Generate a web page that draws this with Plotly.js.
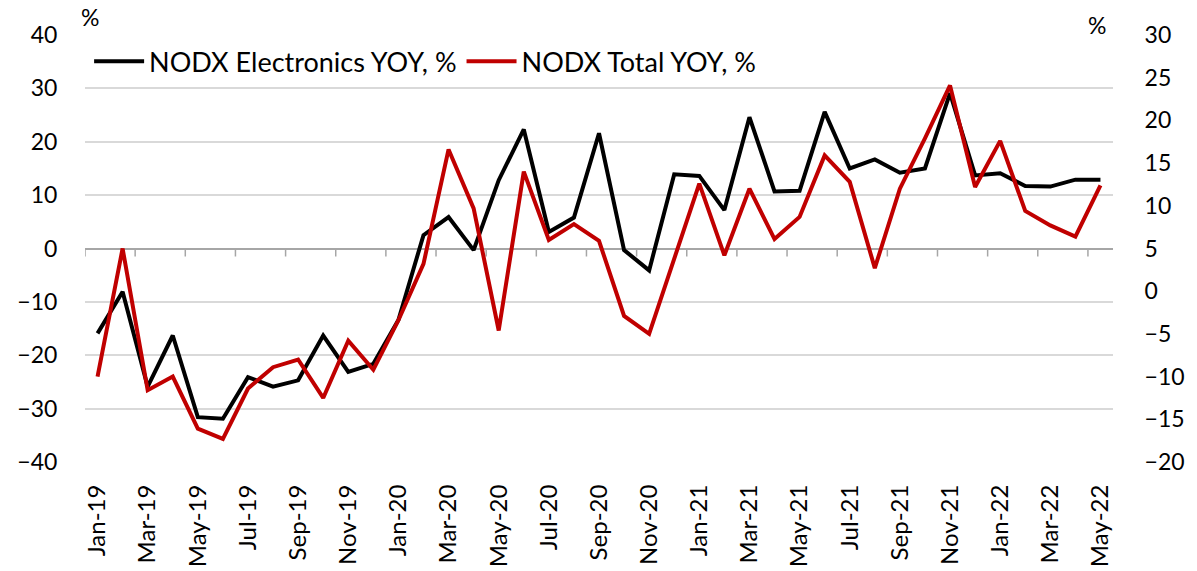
<!DOCTYPE html>
<html>
<head>
<meta charset="utf-8">
<script src="https://cdn.plot.ly/plotly-3.0.1.min.js"></script>
<style>
  body { margin: 0; background: white; }
  #chart { width: 1197px; height: 571px; }
</style>
</head>
<body>
<div id="chart"></div>
<script>
// monthly categories, Jan-19 .. May-22
const months = ['Jan-19','Feb-19','Mar-19','Apr-19','May-19','Jun-19','Jul-19','Aug-19','Sep-19','Oct-19','Nov-19','Dec-19',
                'Jan-20','Feb-20','Mar-20','Apr-20','May-20','Jun-20','Jul-20','Aug-20','Sep-20','Oct-20','Nov-20','Dec-20',
                'Jan-21','Feb-21','Mar-21','Apr-21','May-21','Jun-21','Jul-21','Aug-21','Sep-21','Oct-21','Nov-21','Dec-21',
                'Jan-22','Feb-22','Mar-22','Apr-22','May-22'];

// left axis
const electronicsYoy = [-15.9, -8.1, -25.9, -16.3, -31.6, -31.9, -24.1, -25.9, -24.7, -16.3, -23.1, -21.6,
                        -13.4, 2.5, 5.9, -0.3, 12.8, 22.3, 3.1, 5.8, 21.6, -0.3, -4.1, 13.9,
                        13.6, 7.2, 24.6, 10.7, 10.8, 25.6, 15.0, 16.7, 14.2, 15.0, 29.1, 13.7,
                        14.1, 11.7, 11.6, 12.9, 12.9];

// right axis
const totalYoy = [-10.0, 5.0, -11.6, -10.0, -16.1, -17.3, -11.4, -8.9, -8.0, -12.5, -5.8, -9.2,
                  -3.4, 3.2, 16.6, 9.7, -4.6, 14.0, 6.0, 7.85, 5.9, -2.9, -5.0, 3.8,
                  12.6, 4.2, 12.0, 6.1, 8.7, 15.9, 12.8, 2.7, 12.0, 17.9, 24.1, 12.2,
                  17.6, 9.4, 7.7, 6.4, 12.4];

const FONT = 'Lato, "Open Sans", sans-serif';
const AXIS_GREY = '#a6a6a6';

// little tick marks hanging under the zero line, between every second category
const zeroTicks = [];
for (let i = 0; i <= months.length; i += 2) {
    zeroTicks.push({
        type: 'line', xref: 'x', yref: 'y',
        ysizemode: 'pixel', yanchor: 0,
        x0: i - 0.5, x1: i - 0.5, y0: 0, y1: -8,
        line: { color: AXIS_GREY, width: 1.5 },
        layer: 'below'
    });
}

const traces = [
    {
        x: months,
        y: electronicsYoy,
        type: 'scatter',
        mode: 'lines',
        name: 'NODX Electronics YOY, %',
        line: { color: '#000000', width: 4 }
    },
    {
        x: months,
        y: totalYoy,
        type: 'scatter',
        mode: 'lines',
        name: 'NODX Total YOY, %',
        yaxis: 'y2',
        line: { color: '#c00000', width: 4 }
    }
];

const layout = {
    width: 1197,
    height: 571,
    margin: { l: 85, r: 84, t: 35, b: 109 },
    paper_bgcolor: 'white',
    plot_bgcolor: 'white',
    font: { family: FONT, size: 23, color: '#000000' },
    showlegend: true,
    legend: {
        orientation: 'h',
        x: 0.004, y: 0.995,
        xanchor: 'left', yanchor: 'top',
        bgcolor: 'rgba(0,0,0,0)',
        font: { family: FONT, size: 27, color: '#000000' },
        itemwidth: 50
    },
    xaxis: {
        type: 'category',
        range: [-0.5, months.length - 0.5],
        tickmode: 'array',
        tickvals: months.filter((m, i) => i % 2 === 0),
        tickangle: -90,
        ticks: 'outside',
        ticklen: 12,
        tickcolor: 'rgba(0,0,0,0)',
        showgrid: false,
        showline: false,
        zeroline: false,
        tickfont: { family: FONT, size: 24 }
    },
    yaxis: {
        range: [-40, 40],
        dtick: 10,
        showgrid: true,
        gridcolor: '#d9d9d9',
        gridwidth: 1.5,
        zeroline: true,
        zerolinecolor: AXIS_GREY,
        zerolinewidth: 1.5,
        showline: false,
        ticks: 'outside',
        ticklen: 22,
        tickcolor: 'rgba(0,0,0,0)',
        tickfont: { family: FONT, size: 23 }
    },
    yaxis2: {
        overlaying: 'y',
        side: 'right',
        range: [-20, 30],
        dtick: 5,
        showgrid: false,
        zeroline: false,
        showline: false,
        ticks: 'outside',
        ticklen: 26,
        tickcolor: 'rgba(0,0,0,0)',
        tickfont: { family: FONT, size: 23 }
    },
    shapes: zeroTicks,
    annotations: [
        { text: '%', xref: 'paper', yref: 'paper', x: -0.006, y: 1.005, xanchor: 'left', yanchor: 'bottom',
          showarrow: false, font: { family: FONT, size: 23 } },
        { text: '%', xref: 'paper', yref: 'paper', x: 0.995, y: 0.985, xanchor: 'right', yanchor: 'bottom',
          showarrow: false, font: { family: FONT, size: 23 } }
    ]
};

Plotly.newPlot('chart', traces, layout, { displayModeBar: false, responsive: false });
</script>
</body>
</html>
